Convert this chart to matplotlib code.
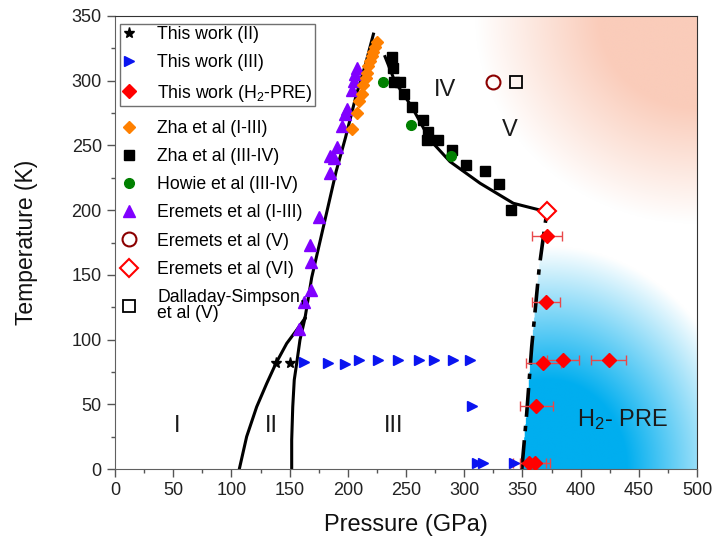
import matplotlib
matplotlib.use("Agg")
import matplotlib.pyplot as plt
import numpy as np
from matplotlib.ticker import MultipleLocator

plt.rcParams['font.family'] = ['Liberation Sans', 'DejaVu Sans']
plt.rcParams['mathtext.fontset'] = 'custom'
plt.rcParams['mathtext.rm'] = 'Liberation Sans'
plt.rcParams['mathtext.it'] = 'Liberation Sans:italic'

# This work (II)
star_p = [138, 150]
star_t = [82, 82]

# This work (III)
tri_p = [162, 183, 198, 210, 226, 243, 261, 274, 290, 305, 307, 311, 316, 343]
tri_t = [83, 82, 81, 84, 84, 84, 84, 84, 84, 84, 49, 5, 5, 5]

# This work (H2-PRE) with pressure error
pre_p = [371, 370, 368, 385, 424, 362, 356, 361]
pre_t = [180, 129, 82, 84, 84, 49, 5, 5]
pre_err = [13, 12, 15, 14, 15, 14, 14, 13]

# Zha et al (I-III)
zha13_p = [203.3, 207.6, 209.9, 212.0, 213.3, 215.6, 216.2, 217.6, 219.0, 220.5, 222.0, 223.4, 224.8]
zha13_t = [263, 275, 284, 290, 297, 302, 306, 311, 315, 319, 322, 326, 330]

# Zha et al (III-IV)
zha34_p = [237.7, 239.1, 239.7, 244.8, 248.3, 254.9, 264.9, 268.6, 267.8, 277.8, 289.3, 301.5, 317.9, 330.2, 340.2]
zha34_t = [318, 310, 299, 299, 290, 279.5, 270, 260, 254, 254, 246.5, 235, 230, 220, 200]

# Howie et al (III-IV)
howie_p = [230, 254, 288.7]
howie_t = [299.3, 265.6, 242]

# Eremets et al (I-III)
ere13_p = [207.5, 206.5, 205, 204, 199, 197.5, 195, 191, 184.5, 188, 185, 175, 167.5, 168.5, 168.5, 162.5, 158]
ere13_t = [310, 305, 300, 293, 278, 274, 265, 249, 242, 240, 229, 195, 173, 160, 138, 129, 108]

# single points
ere5_p, ere5_t = [324.5], [299.3]
ere6_p, ere6_t = [371], [199.4]
dalla_p, dalla_t = [344.5], [299.3]

# phase boundaries
b12_p = [106.8, 113.1, 121.7, 130.3, 138.3, 147.5, 156.1, 163.2]
b12_t = [0, 25, 48, 66, 81.7, 97, 107.4, 116.5]
b23_p = [151.8, 151.8, 152.7, 154.0, 156.1, 158.9, 163.2]
b23_t = [0, 22.4, 48, 68.8, 81.7, 99.7, 116.5]
b13_p = [163.2, 169, 179, 190, 198, 207, 215, 222]
b13_t = [116.5, 148, 187, 230, 256, 288, 312, 336]
b34_p = [232, 240.5, 254.9, 270.6, 287.8, 313.6, 342.2, 368]
b34_t = [318.6, 299.3, 280, 254.3, 237.5, 220.8, 205.3, 199.4]
bpre_p = [349.5, 353.7, 358, 364.5, 371]
bpre_t = [0, 43, 94.5, 156, 199]

fig = plt.figure(figsize=(7.13, 5.44), dpi=100)
ax = fig.add_axes([115 / 713, 75 / 544, 582 / 713, 453 / 544])

# background shading (phase V and H2-PRE regions)
P, T = np.meshgrid(np.linspace(0, 500, 1000), np.linspace(0, 350, 700))
img = np.ones(P.shape + (3,))
d_o = np.sqrt(((P - 500) / 190) ** 2 + ((T - 350) / 160) ** 2)
a_o = np.clip((1 - d_o) / 0.56, 0, 1)[..., None]
orange = np.array([250, 204, 186]) / 255
img = img * (1 - a_o) + orange * a_o
d_b = np.sqrt(((P - 372) / 170) ** 2 + (T / 172) ** 2)
a_b = np.clip((1.0 - d_b) / 0.6, 0, 1)
a_b[P < np.interp(T, bpre_t, bpre_p)] = 0
a_b = a_b[..., None]
blue = np.array([0, 174, 239]) / 255
img = img * (1 - a_b) + blue * a_b
ax.imshow(img, extent=[0, 500, 0, 350], origin='lower', aspect='auto', zorder=0)

lw = 2.2
ax.plot(b12_p, b12_t, color='black', lw=lw, zorder=2)
ax.plot(b23_p, b23_t, color='black', lw=lw, zorder=2)
ax.plot(b13_p, b13_t, color='black', lw=lw, zorder=2)
ax.plot(b34_p, b34_t, color='black', lw=lw, zorder=2)
ax.plot(bpre_p, bpre_t, color='black', lw=2.6, zorder=2, dashes=(8, 2.5, 1.5, 2.5))

ax.errorbar(pre_p, pre_t, xerr=pre_err, fmt='none', ecolor='#e8484a', elinewidth=1,
            capsize=3.5, capthick=1, zorder=3)

h1, = ax.plot(star_p, star_t, '*', color='black', ms=8, ls='none', zorder=4, label='This work (II)')
h2, = ax.plot(tri_p, tri_t, '>', color='#0a14f0', ms=7, ls='none', zorder=4, label='This work (III)')
h3, = ax.plot(pre_p, pre_t, 'D', color='#ff0000', ms=7, ls='none', zorder=4, label='This work (H$_2$-PRE)')
h4, = ax.plot(zha13_p, zha13_t, 'D', color='#ff8000', ms=6.5, ls='none', zorder=4, label='Zha et al (I-III)')
h5, = ax.plot(zha34_p, zha34_t, 's', color='black', ms=6.5, ls='none', zorder=4, label='Zha et al (III-IV)')
h6, = ax.plot(howie_p, howie_t, 'o', color='#008000', ms=7, ls='none', zorder=4, label='Howie et al (III-IV)')
h7, = ax.plot(ere13_p, ere13_t, '^', color='#8000ff', ms=8, ls='none', zorder=3, label='Eremets et al (I-III)')
h8, = ax.plot(ere5_p, ere5_t, 'o', mfc='none', mec='#8b0000', mew=1.5, ms=10, ls='none', zorder=4,
              label='Eremets et al (V)')
h9, = ax.plot(ere6_p, ere6_t, 'D', mfc='white', mec='#ff0000', mew=1.5, ms=9, ls='none', zorder=4,
              label='Eremets et al (VI)')
h10, = ax.plot(dalla_p, dalla_t, 's', mfc='none', mec='black', mew=1.3, ms=8, ls='none', zorder=4,
               label='Dalladay-Simpson,\net al (V)')

# region labels
for txt, x, y in [('I', 53, 33), ('II', 134, 33), ('III', 239, 33), ('IV', 283.5, 293),
                  ('V', 339, 262), ('H$_2$- PRE', 436, 38)]:
    ax.text(x, y, txt, fontsize=17, color='#1a1a1a', ha='center', va='center', zorder=5)

leg1 = ax.legend(handles=[h1, h2, h3], loc='upper left', bbox_to_anchor=(0.009, 0.983),
                 borderaxespad=0, fontsize=12.7, frameon=True, fancybox=False,
                 edgecolor='#707070', framealpha=1, handlelength=0.75, handletextpad=1.2,
                 labelspacing=0.63, borderpad=0.15)
leg1.get_frame().set_linewidth(1.0)
ax.add_artist(leg1)
leg2 = ax.legend(handles=[h4, h5, h6, h7, h8, h9, h10], loc='upper left', bbox_to_anchor=(0.009, 0.776),
                 borderaxespad=0, fontsize=12.7, frameon=False, handlelength=0.75, handletextpad=1.2,
                 labelspacing=0.63, borderpad=0.15)
leg2.get_texts()[-1].set_linespacing(0.95)

ax.set_xlim(0, 500)
ax.set_ylim(0, 350)
ax.xaxis.set_major_locator(MultipleLocator(50))
ax.xaxis.set_minor_locator(MultipleLocator(25))
ax.yaxis.set_major_locator(MultipleLocator(50))
ax.yaxis.set_minor_locator(MultipleLocator(25))
ax.tick_params(which='major', direction='out', length=6, width=1, color='#555555',
               labelsize=13, labelcolor='#222222')
ax.tick_params(which='minor', direction='out', length=3, width=1, color='#555555')
for s in ['left', 'bottom']:
    ax.spines[s].set_color('#606060')
for s in ['top', 'right']:
    ax.spines[s].set_color('#333333')

ax.set_xlabel('Pressure (GPa)', fontsize=17, color='#111111', labelpad=11)
ax.set_ylabel('Temperature (K)', fontsize=16.5, color='#111111', labelpad=24)

fig.savefig('out.png', dpi=100)
